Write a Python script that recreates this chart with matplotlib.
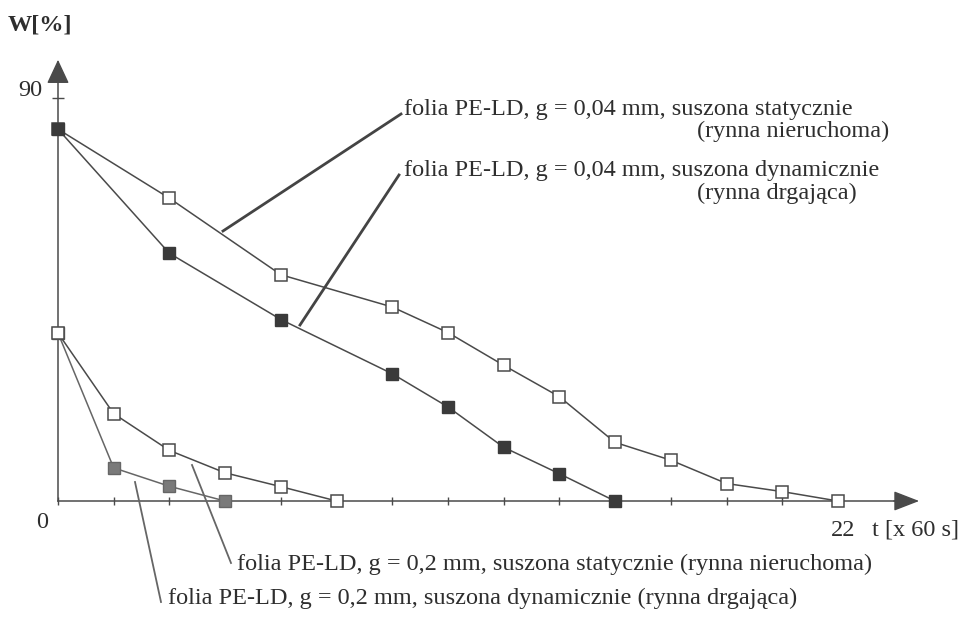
import matplotlib.pyplot as plt
from matplotlib.lines import Line2D

plt.rcParams['font.family'] = 'Liberation Serif'

# dane (t w jednostkach x 60 s, W w %)
t_stat_004 = [0, 3.14, 6.29, 9.43, 11.0, 12.57, 14.14, 15.71, 17.29, 18.86, 20.43, 22.0]
w_stat_004 = [83.0, 67.6, 50.5, 43.3, 37.6, 30.3, 23.3, 13.1, 9.1, 3.9, 2.1, 0]

t_dyn_004 = [0, 3.14, 6.29, 9.43, 11.0, 12.57, 14.14, 15.71]
w_dyn_004 = [83.0, 55.3, 40.5, 28.4, 21.0, 12.0, 6.1, 0]

t_stat_02 = [0, 1.57, 3.14, 4.71, 6.29, 7.86]
w_stat_02 = [37.5, 19.5, 11.3, 6.3, 3.2, 0]

t_dyn_02 = [0, 1.57, 3.14, 4.71]
w_dyn_02 = [37.5, 7.4, 3.3, 0]

x_ticks = [0, 1.57, 3.14, 4.71, 6.29, 7.86, 9.43, 11.0, 12.57, 14.14,
           15.71, 17.29, 18.86, 20.43, 22.0]

W, H = 958, 623
fig = plt.figure(figsize=(W / 100, H / 100), dpi=100)
ax = fig.add_axes([0, 0, 1, 1])
ax.set_xlim(-1.636, 25.388)
ax.set_ylim(-27.23, 111.83)
ax.patch.set_alpha(0)

axc = '#4a4a4a'
txc = '#2e2e2e'
FS = 17.5

# osie
for s in ['top', 'right']:
    ax.spines[s].set_visible(False)
ax.spines['left'].set_position(('data', 0))
ax.spines['bottom'].set_position(('data', 0))
ax.spines['left'].set_bounds(0, 96)
ax.spines['bottom'].set_bounds(0, 23.8)
for s in ['left', 'bottom']:
    ax.spines[s].set_color(axc)
    ax.spines[s].set_linewidth(1.1)
ax.set_xticks(x_ticks)
ax.set_xticklabels([])
ax.set_yticks([90])
ax.set_yticklabels([])
ax.tick_params(axis='x', direction='inout', length=6, width=1, color=axc)
ax.tick_params(axis='y', direction='inout', length=8, width=1, color=axc)

ax.annotate('', xy=(24.37, 0), xytext=(23.5, 0),
            arrowprops=dict(arrowstyle='-|>,head_length=1.6,head_width=0.62',
                            mutation_scale=10, color=axc, lw=1))
ax.annotate('', xy=(0, 99.1), xytext=(0, 95),
            arrowprops=dict(arrowstyle='-|>,head_length=1.5,head_width=0.7',
                            mutation_scale=10, color=axc, lw=1))

# serie
ax.plot(t_stat_004, w_stat_004, color=axc, lw=1.1, marker='s', ms=8,
        mfc='white', mec=axc, mew=1.1, clip_on=False, zorder=3)
ax.plot(t_dyn_004, w_dyn_004, color=axc, lw=1.1, marker='s', ms=8,
        mfc='#3a3a3a', mec='#3a3a3a', clip_on=False, zorder=4)
ax.plot(t_dyn_02, w_dyn_02, color='#666666', lw=1.1, marker='s', ms=8,
        mfc='#7a7a7a', mec='#666666', clip_on=False, zorder=3)
ax.plot(t_stat_02, w_stat_02, color=axc, lw=1.1, marker='s', ms=8,
        mfc='white', mec=axc, mew=1.1, clip_on=False, zorder=4)


def P(x, y):
    return x / W, 1 - y / H


def txt(x, y, s, **kw):
    fig.text(*P(x, y), s, fontsize=FS, color=txc, va='baseline', **kw)


def lead(x1, y1, x2, y2, lw=2.0, c='#444444'):
    (a, b), (cc, d) = P(x1, y1), P(x2, y2)
    fig.add_artist(Line2D([a, cc], [b, d], color=c, lw=lw))


# opisy osi
fig.text(*P(40, 25), 'W[%]', fontsize=FS, fontweight='bold', color=txc,
         ha='center', va='center')
fig.text(*P(30, 90), '90', fontsize=FS, color=txc, ha='center', va='center')
fig.text(*P(42, 523), '0', fontsize=FS, color=txc, ha='center', va='center')
fig.text(*P(843, 530), '22', fontsize=FS, color=txc, ha='center', va='center')
fig.text(*P(872, 530), 't [x 60 s]', fontsize=FS, color=txc, ha='left', va='center')

# etykiety serii
txt(404, 115, 'folia PE-LD, g = 0,04 mm, suszona statycznie')
txt(697, 137, '(rynna nieruchoma)')
txt(404, 176, 'folia PE-LD, g = 0,04 mm, suszona dynamicznie')
txt(697, 199, '(rynna drgająca)')
txt(237, 570, 'folia PE-LD, g = 0,2 mm, suszona statycznie (rynna nieruchoma)')
txt(168, 604, 'folia PE-LD, g = 0,2 mm, suszona dynamicznie (rynna drgająca)')

lead(401, 114, 223, 231)
lead(399, 175, 300, 325)
lead(192, 465, 231, 563, lw=1.3, c='#666666')
lead(135, 482, 161, 602, lw=1.3, c='#666666')

fig.savefig('out.png', dpi=100)
